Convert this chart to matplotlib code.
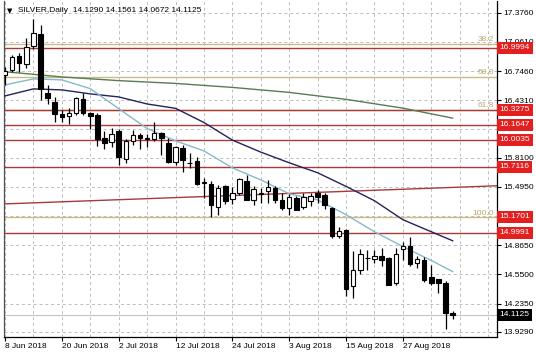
import matplotlib
matplotlib.use("Agg")
import matplotlib.pyplot as plt
import numpy as np
from matplotlib.transforms import blended_transform_factory

plt.rcParams['font.family'] = ['Liberation Sans', 'DejaVu Sans']

# ---------------- data ----------------
opens  = [16.70, 16.76, 16.91, 16.82, 17.02, 17.15, 16.51, 16.41, 16.28, 16.26,
          16.29, 16.44, 16.29, 16.27, 16.02, 15.98, 16.10, 15.80, 15.99, 16.05,
          16.01, 16.01, 16.08, 15.97, 15.76, 15.91, 15.75, 15.77, 15.54, 15.53,
          15.28, 15.50, 15.36, 15.43, 15.56, 15.35, 15.42, 15.45, 15.48, 15.355,
          15.27, 15.37, 15.28, 15.34, 15.43, 15.41, 15.27, 14.96, 15.03, 14.42,
          14.60, 14.73, 14.72, 14.75, 14.73, 14.46, 14.82, 14.86, 14.675, 14.71,
          14.52, 14.50, 14.458, 14.1290]
highs  = [16.79, 16.92, 16.94, 17.10, 17.31, 17.24, 16.59, 16.46, 16.33, 16.35,
          16.47, 16.51, 16.30, 16.29, 16.10, 16.13, 16.12, 16.01, 16.11, 16.08,
          16.07, 16.19, 16.09, 16.02, 15.94, 15.95, 15.86, 15.82, 15.59, 15.56,
          15.52, 15.52, 15.49, 15.59, 15.62, 15.50, 15.485, 15.57, 15.50, 15.43,
          15.42, 15.40, 15.43, 15.43, 15.46, 15.43, 15.28, 15.065, 15.04, 14.805,
          14.82, 14.815, 14.815, 14.835, 14.735, 14.84, 14.895, 14.95, 14.75, 14.74,
          14.655, 14.505, 14.475, 14.1561]
lows   = [16.60, 16.73, 16.74, 16.78, 16.98, 16.43, 16.39, 16.20, 16.20, 16.17,
          16.27, 16.27, 16.12, 15.94, 15.90, 15.92, 15.73, 15.75, 15.95, 15.90,
          15.92, 15.99, 15.84, 15.75, 15.73, 15.66, 15.70, 15.52, 15.38, 15.17,
          15.19, 15.31, 15.31, 15.41, 15.35, 15.30, 15.32, 15.32, 15.32, 15.25,
          15.19, 15.24, 15.26, 15.29, 15.32, 15.26, 14.945, 14.945, 14.32, 14.29,
          14.55, 14.60, 14.675, 14.64, 14.43, 14.44, 14.70, 14.645, 14.62, 14.47,
          14.44, 14.35, 13.955, 14.0672]
closes = [16.75, 16.90, 16.83, 17.01, 17.16, 16.55, 16.45, 16.28, 16.25, 16.29,
          16.45, 16.29, 16.26, 16.01, 15.97, 16.07, 15.82, 15.99, 16.06, 16.02,
          16.02, 16.08, 16.02, 15.76, 15.92, 15.78, 15.755, 15.53, 15.545, 15.30,
          15.48, 15.34, 15.43, 15.58, 15.35, 15.47, 15.425, 15.49, 15.35, 15.27,
          15.39, 15.25, 15.39, 15.40, 15.39, 15.30, 14.96, 15.02, 14.39, 14.60,
          14.775, 14.725, 14.75, 14.705, 14.44, 14.775, 14.86, 14.665, 14.715, 14.49,
          14.46, 14.455, 14.13, 14.1125]

date_pos    = [0, 8, 16, 24, 32, 40, 48, 56]
date_labels = ["8 Jun 2018", "20 Jun 2018", "2 Jul 2018", "12 Jul 2018",
               "24 Jul 2018", "3 Aug 2018", "15 Aug 2018", "27 Aug 2018"]

y_ticks = [17.3760, 17.0610, 16.7460, 16.4310, 16.1250, 15.8100, 15.4950,
           15.1800, 14.8650, 14.5500, 14.2350, 13.9290]
y_hidden = [15.1800]   # label fully covered by the 15.1701 box in the reference

# moving averages
ma_fast_x = [0, 4, 8, 12, 16, 20, 24, 28, 32, 36, 40, 44, 48, 52, 56, 60, 63]
ma_fast_y = [16.596, 16.661, 16.650, 16.556, 16.34, 16.125, 15.992, 15.883, 15.70,
             15.57, 15.42, 15.354, 15.194, 15.01, 14.85, 14.70, 14.58]
ma_mid_x  = [0, 4, 8, 12, 16, 20, 24, 28, 32, 36, 40, 44, 48, 52, 56, 60, 63]
ma_mid_y  = [16.477, 16.553, 16.542, 16.499, 16.466, 16.39, 16.343, 16.19, 16.00,
             15.87, 15.755, 15.647, 15.50, 15.345, 15.14, 15.01, 14.913]
ma_slow_x = [0, 8, 16, 24, 32, 40, 48, 56, 63]
ma_slow_y = [16.738, 16.682, 16.642, 16.612, 16.569, 16.515, 16.44, 16.345, 16.237]

red_levels = [16.9994, 16.3275, 16.1647, 16.0035, 15.7116, 14.9991]
fib_levels = [17.0425, 16.685, 16.3275, 15.1701]
fib_labels = ["38.2", "50.0", "61.8", "100.0"]
trend_pts  = [(0, 15.311), (69, 15.506)]
last_price = 14.1125
title = "SILVER,Daily  14.1290 14.1561 14.0672 14.1125"

# ---------------- style ----------------
RED = "#A83A3C"
FIB = "#CDBB85"
FIBTXT = "#B9A66A"
GRID = "#BDBDBD"
BOXRED = "#E3201F"

W, H = 536, 358
fig = plt.figure(figsize=(W / 100, H / 100), dpi=100)
L, R, B, T = 4, 496.7, 336.5, 1.0
ax = fig.add_axes([L / W, (H - B) / H, (R - L) / W, (B - T) / H])
ax.set_xlim(-0.14, 69.2)
ax.set_ylim(13.879, 17.502)

# grid / ticks
minor = [p for p in range(0, 70, 4) if p not in date_pos]
ax.set_xticks(date_pos)
ax.set_xticklabels(date_labels, ha='left', fontsize=6)
ax.set_xticks(minor, minor=True)
ax.yaxis.tick_right()
ax.set_yticks(y_ticks)
ax.set_yticklabels(["" if v in y_hidden else f"{v:.4f}" for v in y_ticks], fontsize=6)
ax.tick_params(axis='x', which='major', length=3, width=0.8, pad=1.5)
ax.tick_params(axis='x', which='minor', length=0)
ax.tick_params(axis='y', length=3, width=0.8, pad=1.5)
ax.grid(True, axis='both', which='both', color=GRID, lw=0.7, ls=(0, (3, 3)))
ax.set_axisbelow(True)
ax.spines['top'].set_visible(False)
ax.spines['left'].set_color('#505050')
for s in ['right', 'bottom', 'left']:
    ax.spines[s].set_linewidth(0.9)

# horizontal levels
ax.axhline(last_price, color='#C4C4C4', lw=0.8, zorder=1.5)
for lv in fib_levels:
    ax.axhline(lv, color=FIB, lw=1.0, zorder=1.6)
for lv in red_levels:
    ax.axhline(lv, color=RED, lw=1.0, zorder=1.7)
ax.axline(trend_pts[0], trend_pts[1], color=RED, lw=1.0, zorder=1.7)

# moving averages
ax.plot(ma_slow_x, ma_slow_y, color="#587C55", lw=1.0, zorder=3)
ax.plot(ma_mid_x, ma_mid_y, color="#23235E", lw=1.0, zorder=3)
ax.plot(ma_fast_x, ma_fast_y, color="#86BACB", lw=1.0, zorder=3)

# candles
o = np.array(opens); c = np.array(closes)
idx = np.arange(len(o))
up = c >= o
ax.vlines(idx, lows, highs, color='black', lw=0.9, zorder=4)
bottoms = np.minimum(o, c)
heights = np.maximum(np.abs(c - o), 0.003)
ax.bar(idx, heights, bottom=bottoms, width=0.64,
       color=['white' if u else 'black' for u in up],
       edgecolor='black', linewidth=0.8, zorder=5)

# fib labels
trY = blended_transform_factory(ax.transAxes, ax.transData)
for lv, lb in zip(fib_levels, fib_labels):
    ax.annotate(lb, xy=(1, lv), xycoords=trY, xytext=(-2, 0.3),
                textcoords='offset points', ha='right', va='bottom',
                fontsize=6, color=FIBTXT, zorder=6)

# price boxes on the axis
for lv in red_levels + [fib_levels[-1]]:
    ax.annotate(f"{lv:.4f}", xy=(1, lv), xycoords=trY, xytext=(2.2, 0),
                textcoords='offset points', ha='left', va='center',
                fontsize=6, color='white', annotation_clip=False, zorder=7,
                bbox=dict(boxstyle='square,pad=0.3', fc=BOXRED, ec='none'))
ax.annotate(f"{last_price:.4f}", xy=(1, last_price), xycoords=trY, xytext=(2.2, 0),
            textcoords='offset points', ha='left', va='center',
            fontsize=6, color='white', annotation_clip=False, zorder=7,
            bbox=dict(boxstyle='square,pad=0.3', fc='black', ec='none'))

# title
fig.text(7 / W, 1 - 11 / H, "\u25bc", fontsize=5, va='center', ha='left',
         family=['DejaVu Sans'])
fig.text(18 / W, 1 - 11 / H, title, fontsize=6, va='center', ha='left')

fig.savefig("out.png", dpi=100)
